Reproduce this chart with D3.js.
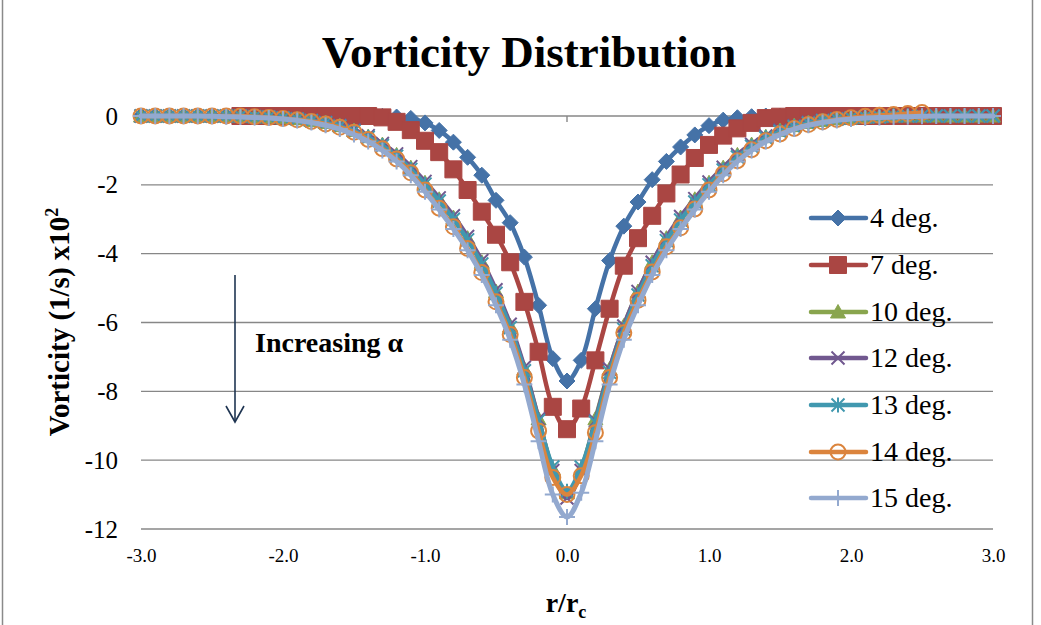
<!DOCTYPE html>
<html>
<head>
<meta charset="utf-8">
<script src="https://cdn.jsdelivr.net/npm/d3@7"></script>
<style>
  body { margin: 0; background: #fff; }
  svg { display: block; }
</style>
</head>
<body>
<svg id="chart" width="1041" height="625"></svg>
<script>
// Normalised radius r/rc
const r = [-3.0,-2.9,-2.8,-2.7,-2.6,-2.5,-2.4,-2.3,-2.2,-2.1,-2.0,-1.9,-1.8,-1.7,-1.6,-1.5,-1.4,-1.3,-1.2,-1.1,
  -1.0,-0.9,-0.8,-0.7,-0.6,-0.5,-0.4,-0.3,-0.2,-0.1,0.0,0.1,0.2,0.3,0.4,0.5,0.6,0.7,0.8,0.9,
  1.0,1.1,1.2,1.3,1.4,1.5,1.6,1.7,1.8,1.9,2.0,2.1,2.2,2.3,2.4,2.5,2.6,2.7,2.8,2.9,3.0];

// Vorticity (1/s) x10^2 for each angle of attack
const deg4 = [0,0,0,0,0,0,0,0,0,0,0,0,0,0,0,0,0,
  -0.01,-0.03,-0.07,-0.2,-0.42,-0.76,-1.2,-1.72,-2.45,-3.1,-4.1,-5.5,-7.05,
  -7.7,
  -7.1,-5.6,-4.2,-3.2,-2.5,-1.85,-1.32,-0.9,-0.55,-0.28,-0.12,-0.05,-0.02,
  0,0,0,0,0,0,0,0,0,0,0,0,0,0,0,0,0];

const deg7 = [null,null,null,null,null,null,null,0,0,0,0,0,0,0,0,0,0,
  -0.04,-0.17,-0.41,-0.72,-1.05,-1.55,-2.15,-2.78,-3.45,-4.25,-5.4,-6.85,-8.45,
  -9.1,
  -8.5,-7.1,-5.6,-4.35,-3.55,-2.9,-2.25,-1.7,-1.22,-0.84,-0.57,-0.36,-0.2,-0.06,-0.02,
  0,0,0,0,0,0,0,0,0,0,0,0,0,0,0];

const deg10 = [0,0,0,0,0,0,0,0,
  -0.02,-0.03,-0.05,-0.08,-0.13,-0.19,-0.28,-0.42,-0.6,-0.83,-1.13,-1.5,-1.94,-2.42,-2.95,-3.55,-4.25,-5.1,-6.1,-7.35,-8.8,-10.25,
  -10.95,
  -10.25,-8.8,-7.35,-6.1,-5.1,-4.25,-3.55,-2.95,-2.42,-1.94,-1.5,-1.13,-0.83,-0.6,-0.42,-0.28,-0.19,-0.13,-0.08,-0.05,-0.03,-0.02,
  0,0,0,0,0,0,0,0];

const deg12 = [0,0,0,0,0,0,0,0,
  -0.02,-0.03,-0.05,-0.08,-0.12,-0.18,-0.27,-0.4,-0.57,-0.8,-1.1,-1.47,-1.9,-2.38,-2.9,-3.5,-4.2,-5.05,-6.05,-7.3,-8.8,-10.3,
  -11.1,
  -10.3,-8.85,-7.35,-6.1,-5.1,-4.25,-3.52,-2.92,-2.4,-1.92,-1.49,-1.12,-0.82,-0.58,-0.41,-0.28,-0.18,-0.12,-0.08,-0.05,-0.03,-0.02,
  0,0,0,0,0,0,0,0];

const deg13 = [0,0,0,0,0,0,0,0,
  -0.02,-0.03,-0.06,-0.09,-0.14,-0.2,-0.3,-0.44,-0.62,-0.86,-1.17,-1.55,-1.98,-2.47,-3.0,-3.6,-4.3,-5.15,-6.15,-7.4,-8.85,-10.2,
  -10.9,
  -10.2,-8.9,-7.45,-6.2,-5.2,-4.35,-3.62,-3.02,-2.5,-2.0,-1.57,-1.19,-0.88,-0.63,-0.45,-0.31,-0.21,-0.14,-0.09,-0.06,-0.03,-0.02,
  0,0,0,0,0,0,0,0];

const deg14 = [0,0,0,0,0,0,0,0,
  -0.02,-0.04,-0.07,-0.11,-0.16,-0.23,-0.33,-0.47,-0.68,-0.95,-1.25,-1.65,-2.15,-2.68,-3.22,-3.85,-4.55,-5.4,-6.35,-7.6,-9.15,-10.5,
  -11.0,
  -10.45,-9.2,-7.6,-6.3,-5.35,-4.53,-3.8,-3.25,-2.7,-2.15,-1.68,-1.3,-0.98,-0.72,-0.52,-0.36,-0.25,-0.17,-0.1,-0.05,-0.01,0.02,0.04,0.07,0.1,
  null,null,null,null,null];

const deg15 = [0,0,0,0,0,
  -0.01,-0.02,-0.03,-0.04,-0.06,-0.09,-0.13,-0.19,-0.27,-0.38,-0.54,-0.74,-1.0,-1.32,-1.72,-2.2,-2.72,-3.28,-3.9,-4.62,-5.5,-6.5,-7.8,-9.45,-11.0,
  -11.65,
  -10.95,-9.45,-7.8,-6.5,-5.5,-4.62,-3.9,-3.28,-2.72,-2.2,-1.72,-1.32,-1.0,-0.74,-0.54,-0.38,-0.27,-0.19,-0.13,-0.09,-0.06,-0.04,-0.03,-0.02,-0.01,
  0,0,0,0,0];

const seriesNames   = ["4 deg.", "7 deg.", "10 deg.", "12 deg.", "13 deg.", "14 deg.", "15 deg."];
const seriesValues  = [deg4, deg7, deg10, deg12, deg13, deg14, deg15];
const seriesColors  = ["#4572A7", "#AA4643", "#89A54E", "#71588F", "#4198AF", "#DB843D", "#93A9CF"];
const seriesMarkers = ["diamond", "square", "triangle", "x", "star", "circle", "plus"];

const xTicks = [-3, -2, -1, 0, 1, 2, 3];
const xTickLabels = ["-3.0", "-2.0", "-1.0", "0.0", "1.0", "2.0", "3.0"];
const yTicks = [0, -2, -4, -6, -8, -10, -12];
const yTickLabels = ["0", "-2", "-4", "-6", "-8", "-10", "-12"];

const SERIF = "'Liberation Serif', 'Times New Roman', serif";

const svg = d3.select("#chart");
svg.append("rect").attr("width", 1041).attr("height", 625).attr("fill", "#fff");

// chart frame
svg.append("rect")
  .attr("x", 2.5).attr("y", -5).attr("width", 1030).attr("height", 640)
  .attr("fill", "none").attr("stroke", "#8a8a8a").attr("stroke-width", 1.5);

const x = d3.scaleLinear().domain([-3, 3]).range([141, 993]);
const y = d3.scaleLinear().domain([-12, 0]).range([529, 116]);

// horizontal gridlines
svg.append("g").selectAll("line").data(yTicks).join("line")
  .attr("x1", x(-3)).attr("x2", x(3))
  .attr("y1", d => y(d)).attr("y2", d => y(d))
  .attr("stroke", "#878787").attr("stroke-width", 1.4);

// tick mark where the category axis crosses zero
svg.append("line")
  .attr("x1", x(0)).attr("x2", x(0)).attr("y1", y(0)).attr("y2", y(0) + 6)
  .attr("stroke", "#878787").attr("stroke-width", 1.4);

// axes (labels only)
const yAxis = svg.append("g").attr("transform", `translate(${x(-3)},0)`)
  .call(d3.axisLeft(y).tickValues(yTicks).tickSize(0).tickPadding(23)
    .tickFormat(d => yTickLabels[yTicks.indexOf(d)]));
yAxis.select(".domain").remove();
yAxis.selectAll("text").attr("font-family", SERIF).attr("font-size", 25).attr("fill", "#000");

const xAxis = svg.append("g").attr("transform", `translate(0,${y(-12)})`)
  .call(d3.axisBottom(x).tickValues(xTicks).tickSize(0).tickPadding(20)
    .tickFormat(d => xTickLabels[xTicks.indexOf(d)]));
xAxis.select(".domain").remove();
xAxis.selectAll("text").attr("font-family", SERIF).attr("font-size", 19).attr("fill", "#000");

// marker shapes
function markerPath(type) {
  switch (type) {
    case "diamond": { const h = 8; return `M0,${-h}L${h},0L0,${h}L${-h},0Z`; }
    case "square": { const h = 8.5; return `M${-h},${-h}H${h}V${h}H${-h}Z`; }
    case "triangle": { const h = 7.5; return `M0,${-h}L${h},${h * 0.8}L${-h},${h * 0.8}Z`; }
    case "x": { const s = 6.5; return `M${-s},${-s}L${s},${s}M${-s},${s}L${s},${-s}`; }
    case "star": { const s = 6.5; return `M${-s},${-s}L${s},${s}M${-s},${s}L${s},${-s}M0,${-s - 1}L0,${s + 1}`; }
    case "plus": { const s = 8; return `M${-s},0L${s},0M0,${-s}L0,${s}`; }
    case "circle": { const c = 7.5; return `M${-c},0A${c},${c} 0 1,0 ${c},0A${c},${c} 0 1,0 ${-c},0Z`; }
  }
}
function styleMarker(sel, type, color) {
  const filled = type === "diamond" || type === "square" || type === "triangle";
  sel.attr("d", markerPath(type))
    .attr("fill", filled ? color : "none")
    .attr("stroke", color)
    .attr("stroke-width", filled ? 1 : 2);
}

const line = d3.line()
  .defined(d => d.v !== null)
  .x(d => x(d.r)).y(d => y(d.v))
  .curve(d3.curveCatmullRom.alpha(0.5));

const plot = svg.append("g");
seriesValues.forEach((vals, i) => {
  const pts = r.map((rv, k) => ({ r: rv, v: vals[k] }));
  const g = plot.append("g");
  g.append("path").datum(pts.filter(p => p.v !== null))
    .attr("d", line)
    .attr("fill", "none")
    .attr("stroke", seriesColors[i])
    .attr("stroke-width", i === 6 ? 5 : 4.5)
    .attr("stroke-linejoin", "round").attr("stroke-linecap", "round");
  g.selectAll("path.m").data(pts.filter(p => p.v !== null)).join("path")
    .attr("class", "m")
    .attr("transform", d => `translate(${x(d.r)},${y(d.v)})`)
    .call(s => styleMarker(s, seriesMarkers[i], seriesColors[i]));
});

// legend
const legend = svg.append("g");
const legendY = [218, 265, 312, 358, 405, 452, 498];
seriesNames.forEach((name, i) => {
  const ly = legendY[i];
  legend.append("line")
    .attr("x1", 811).attr("x2", 866).attr("y1", ly).attr("y2", ly)
    .attr("stroke", seriesColors[i]).attr("stroke-width", 4.5).attr("stroke-linecap", "round");
  legend.append("path")
    .attr("transform", `translate(838,${ly})`)
    .call(s => styleMarker(s, seriesMarkers[i], seriesColors[i]));
  legend.append("text")
    .attr("x", 870).attr("y", ly).attr("dy", "0.33em")
    .attr("font-family", SERIF).attr("font-size", 28).attr("fill", "#000")
    .text(name);
});

// title
svg.append("text")
  .attr("x", 529).attr("y", 67).attr("text-anchor", "middle")
  .attr("font-family", SERIF).attr("font-weight", "bold").attr("font-size", 45)
  .attr("fill", "#000")
  .text("Vorticity Distribution");

// y-axis title
const yTitle = svg.append("text")
  .attr("transform", "translate(69,322) rotate(-90)")
  .attr("text-anchor", "middle")
  .attr("font-family", SERIF).attr("font-weight", "bold").attr("font-size", 29)
  .attr("fill", "#000");
yTitle.append("tspan").text("Vorticity (1/s) x10");
yTitle.append("tspan").attr("font-size", 18).attr("dy", -11).text("2");

// x-axis title
const xTitle = svg.append("text")
  .attr("x", 566).attr("y", 612).attr("text-anchor", "middle")
  .attr("font-family", SERIF).attr("font-weight", "bold").attr("font-size", 28)
  .attr("fill", "#000");
xTitle.append("tspan").text("r/r");
xTitle.append("tspan").attr("font-size", 18).attr("dy", 6).text("c");

// annotation arrow
const arrowColor = "#1F3552";
svg.append("line")
  .attr("x1", 235).attr("x2", 235).attr("y1", 275).attr("y2", 421)
  .attr("stroke", arrowColor).attr("stroke-width", 1.6);
svg.append("path")
  .attr("d", "M226,406L235,422L244,406")
  .attr("fill", "none").attr("stroke", arrowColor).attr("stroke-width", 1.6);
svg.append("text")
  .attr("x", 255).attr("y", 352)
  .attr("font-family", SERIF).attr("font-weight", "bold").attr("font-size", 28)
  .attr("fill", "#000")
  .text("Increasing α");
</script>
</body>
</html>
